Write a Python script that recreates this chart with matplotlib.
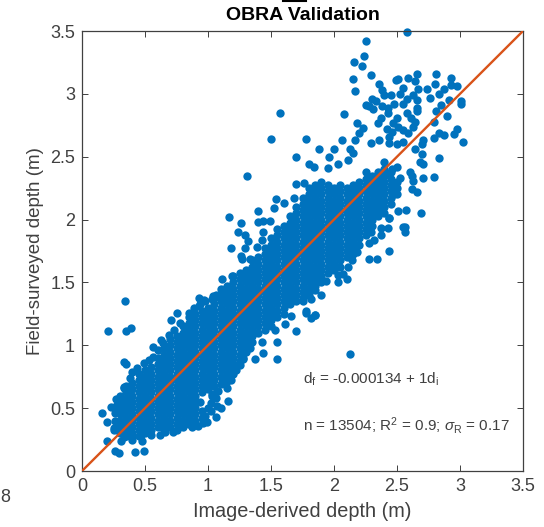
import matplotlib
matplotlib.use('Agg')
import matplotlib.pyplot as plt
from matplotlib.lines import Line2D

plt.rcParams['font.family'] = ['Liberation Sans', 'DejaVu Sans']
plt.rcParams['mathtext.fontset'] = 'custom'
plt.rcParams['mathtext.rm'] = 'Liberation Sans'
plt.rcParams['mathtext.it'] = 'Liberation Sans:italic'
plt.rcParams['mathtext.bf'] = 'Liberation Sans:bold'

core_image = [0.30, 0.35, 0.40, 0.45, 0.50, 0.55, 0.60, 0.65, 0.70, 0.75, 0.80, 0.85, 0.90, 0.95,
              1.00, 1.05, 1.10, 1.15, 1.20, 1.25, 1.30, 1.35, 1.40, 1.45, 1.50, 1.55, 1.60, 1.65,
              1.70, 1.75, 1.80, 1.85, 1.90, 1.95, 2.00, 2.05, 2.10, 2.15, 2.20, 2.25, 2.30, 2.35,
              2.40, 2.45, 2.50]
core_field = [
    [.30, .35, .40, .45, .50, .55, .60],
    [.275, .325, .375, .425, .475, .525, .575, .625, .675],
    [.25, .30, .35, .40, .45, .50, .55, .60, .65, .70],
    [.275, .325, .375, .425, .475, .525, .575, .625, .675, .725, .775],
    [.30, .35, .40, .45, .50, .55, .60, .65, .70, .75, .80],
    [.325, .375, .425, .475, .525, .575, .625, .675, .725, .775, .825],
    [.35, .40, .45, .50, .55, .60, .65, .70, .75, .80, .85, .90],
    [.325, .375, .425, .475, .525, .575, .625, .675, .725, .775, .825, .875, .925, .975],
    [.35, .40, .45, .50, .55, .60, .65, .70, .75, .80, .85, .90, .95, 1.00, 1.05],
    [.325, .375, .425, .475, .525, .575, .625, .675, .725, .775, .825, .875, .925, .975, 1.025, 1.075],
    [.35, .40, .45, .50, .55, .60, .65, .70, .75, .80, .85, .90, .95, 1.00, 1.05, 1.10, 1.15],
    [.375, .425, .475, .525, .575, .625, .675, .725, .775, .825, .875, .925, .975, 1.025, 1.075, 1.125, 1.175, 1.225],
    [.40, .45, .50, .55, .60, .65, .70, .75, .80, .85, .90, .95, 1.00, 1.05, 1.10, 1.15, 1.20, 1.25],
    [.425, .475, .625, .675, .725, .775, .825, .875, .925, .975, 1.025, 1.075, 1.125, 1.175, 1.225, 1.275],
    [.65, .70, .75, .80, .85, .90, .95, 1.00, 1.05, 1.10, 1.15, 1.20, 1.25, 1.30],
    [.675, .725, .775, .825, .875, .925, .975, 1.025, 1.075, 1.125, 1.175, 1.225, 1.275, 1.325, 1.375],
    [.75, .80, .85, .90, .95, 1.00, 1.05, 1.10, 1.15, 1.20, 1.25, 1.30, 1.35, 1.40, 1.45],
    [.775, .825, .875, .925, .975, 1.025, 1.075, 1.125, 1.175, 1.225, 1.275, 1.325, 1.375, 1.425, 1.475],
    [.80, .85, .90, .95, 1.00, 1.05, 1.10, 1.15, 1.20, 1.25, 1.30, 1.35, 1.40, 1.45, 1.50, 1.55],
    [.875, .925, .975, 1.025, 1.075, 1.125, 1.175, 1.225, 1.275, 1.325, 1.375, 1.425, 1.475, 1.525, 1.575],
    [.95, 1.00, 1.05, 1.10, 1.15, 1.20, 1.25, 1.30, 1.35, 1.40, 1.45, 1.50, 1.55, 1.60],
    [1.025, 1.075, 1.125, 1.175, 1.225, 1.275, 1.325, 1.375, 1.425, 1.475, 1.525, 1.575, 1.625, 1.675],
    [1.10, 1.15, 1.20, 1.25, 1.30, 1.35, 1.40, 1.45, 1.50, 1.55, 1.60, 1.65, 1.70],
    [1.125, 1.175, 1.225, 1.275, 1.325, 1.375, 1.425, 1.475, 1.525, 1.575, 1.625, 1.675, 1.725, 1.775],
    [1.15, 1.20, 1.25, 1.30, 1.35, 1.40, 1.45, 1.50, 1.55, 1.60, 1.65, 1.70, 1.75, 1.80, 1.85],
    [1.225, 1.275, 1.325, 1.375, 1.425, 1.475, 1.525, 1.575, 1.625, 1.675, 1.725, 1.775, 1.825, 1.875, 1.925],
    [1.25, 1.30, 1.35, 1.40, 1.45, 1.50, 1.55, 1.60, 1.65, 1.70, 1.75, 1.80, 1.85, 1.90, 1.95],
    [1.325, 1.375, 1.425, 1.475, 1.525, 1.575, 1.625, 1.675, 1.725, 1.775, 1.825, 1.875, 1.925, 1.975, 2.025],
    [1.35, 1.40, 1.45, 1.50, 1.55, 1.60, 1.65, 1.70, 1.75, 1.80, 1.85, 1.90, 1.95, 2.00, 2.05, 2.10],
    [1.375, 1.425, 1.475, 1.525, 1.575, 1.625, 1.675, 1.725, 1.775, 1.825, 1.875, 1.925, 1.975, 2.025, 2.075, 2.125, 2.175],
    [1.40, 1.45, 1.50, 1.55, 1.60, 1.65, 1.70, 1.75, 1.80, 1.85, 1.90, 1.95, 2.00, 2.05, 2.10, 2.15, 2.20, 2.25],
    [1.475, 1.525, 1.575, 1.625, 1.675, 1.725, 1.775, 1.825, 1.875, 1.925, 1.975, 2.025, 2.075, 2.125, 2.175, 2.225, 2.275],
    [1.50, 1.55, 1.60, 1.65, 1.70, 1.75, 1.80, 1.85, 1.90, 1.95, 2.00, 2.05, 2.10, 2.15, 2.20, 2.25, 2.30],
    [1.575, 1.625, 1.675, 1.725, 1.775, 1.825, 1.875, 1.925, 1.975, 2.025, 2.075, 2.125, 2.175, 2.225, 2.275],
    [1.60, 1.65, 1.70, 1.75, 1.80, 1.85, 1.90, 1.95, 2.00, 2.05, 2.10, 2.15, 2.20, 2.25],
    [1.625, 1.675, 1.725, 1.775, 1.825, 1.875, 1.925, 1.975, 2.025, 2.075, 2.125, 2.175, 2.225, 2.275],
    [1.70, 1.75, 1.80, 1.85, 1.90, 1.95, 2.00, 2.05, 2.10, 2.15, 2.20, 2.25],
    [1.725, 1.775, 1.825, 1.875, 1.925, 1.975, 2.025, 2.075, 2.125, 2.175, 2.225, 2.275],
    [1.80, 1.85, 1.90, 1.95, 2.00, 2.05, 2.10, 2.15, 2.20, 2.25, 2.30],
    [1.875, 1.925, 1.975, 2.025, 2.075, 2.125, 2.175, 2.225, 2.275, 2.325, 2.375],
    [1.95, 2.00, 2.05, 2.10, 2.15, 2.20, 2.25, 2.30, 2.35],
    [2.025, 2.075, 2.125, 2.175, 2.225, 2.275, 2.325, 2.375],
    [2.05, 2.10, 2.15, 2.20, 2.25, 2.30, 2.35, 2.40],
    [2.125, 2.175, 2.225, 2.275, 2.325, 2.375],
    [2.20, 2.25, 2.30],
]

# rough rim of the cloud, upper and lower side
rim_image = [0.25, 0.26, 0.26, 0.27, 0.27, 0.33, 0.38, 0.40, 0.44, 0.49, 0.53, 0.56, 0.60, 0.64,
             0.69, 0.73, 0.78, 0.85, 0.89, 0.94, 0.98, 1.03, 1.06,
             0.25, 0.33, 0.40, 0.47, 0.55, 0.66, 0.72, 0.87, 0.92, 0.96, 0.98, 1.00, 1.02, 1.03,
             1.06, 1.08, 1.10, 1.12, 1.14, 1.17, 1.20, 1.22, 1.25, 1.28, 1.33]
rim_field = [0.34, 0.40, 0.46, 0.52, 0.57, 0.66, 0.74, 0.79, 0.82, 0.86, 0.88, 0.91, 0.96, 1.02,
             1.08, 1.12, 1.18, 1.26, 1.30, 1.33, 1.35, 1.37, 1.40,
             0.33, 0.27, 0.27, 0.29, 0.29, 0.31, 0.31, 0.35, 0.36, 0.38, 0.44, 0.50, 0.54, 0.60,
             0.58, 0.64, 0.69, 0.72, 0.70, 0.75, 0.77, 0.84, 0.84, 0.90, 0.98]

# points that can be told apart around the cloud
loose_image = [2.58, 2.25, 2.24, 2.16, 2.22, 2.29, 2.15, 2.17, 2.08, 1.78, 2.06, 1.88, 2.00, 1.96,
               2.18, 2.17, 2.13, 2.23, 2.20, 1.80, 1.84, 1.95, 2.03, 2.11, 2.15,
               2.36, 2.49, 2.51, 2.59, 2.66, 2.64, 2.81, 2.93, 2.80, 2.93, 2.98, 2.87, 2.74, 2.67,
               2.55, 2.52, 2.63, 2.76, 2.83, 2.38, 2.40, 2.45, 2.30, 2.33, 2.25, 2.28, 2.31, 2.38,
               2.48, 2.55, 2.58, 2.66, 2.66, 2.85, 2.91, 3.01, 3.01, 2.43, 2.43, 2.58, 2.66, 2.81,
               2.90, 2.37, 2.35, 2.50, 2.47, 2.51, 2.61, 2.64, 2.63, 2.79, 2.42, 2.46, 2.55, 2.59,
               2.83, 2.87, 2.79, 2.98, 2.95, 3.02, 2.71, 2.70, 2.44, 2.44, 2.36, 2.29, 2.50, 2.55,
               2.64, 2.70, 2.83, 2.68, 2.71, 2.60, 2.62, 2.63, 2.71, 2.79, 2.62, 2.66, 2.69, 2.57,
               2.51, 2.44, 2.56, 2.40, 2.42, 2.46, 2.50, 2.48, 2.52,
               1.57, 1.50, 1.70, 1.31, 1.70, 1.76, 1.54, 1.60, 1.68, 1.52, 1.40, 1.17, 1.26, 1.24,
               1.29, 1.32, 1.18, 1.29, 1.26, 1.27, 1.33, 1.39, 1.43, 1.44, 1.40, 1.44, 1.49, 1.11,
               1.19, 0.93, 0.97, 0.93, 1.04,
               1.70, 1.55, 1.53, 1.61, 1.44, 1.28, 1.37, 1.55, 1.43, 1.85, 1.78, 1.82, 1.66, 1.90,
               1.94, 2.03, 2.03, 2.44, 2.28, 2.34, 2.56, 2.55, 2.43, 2.44, 2.29, 2.37, 2.37, 2.32,
               2.28, 2.18, 2.14, 2.11, 2.10, 2.07, 1.85, 1.85, 1.78, 1.75, 1.82, 2.13,
               0.34, 0.21, 0.35, 0.39, 0.33, 0.35, 0.33, 0.16, 0.23, 0.20, 0.20, 0.26, 0.29, 0.42,
               0.49, 0.31, 0.48, 0.62, 0.75, 0.71, 0.63, 0.56, 1.06, 0.99, 1.16, 1.07, 1.03, 1.07,
               1.15, 0.94, 1.10, 1.02, 0.97, 1.18, 1.22]
loose_field = [3.49, 3.42, 3.30, 3.25, 3.22, 3.15, 3.12, 3.02, 2.84, 2.64, 2.63, 2.56, 2.56, 2.50,
               2.77, 2.63, 2.56, 2.73, 2.69, 2.44, 2.42, 2.41, 2.44, 2.47, 2.53,
               3.08, 3.11, 3.12, 3.13, 3.16, 3.10, 3.16, 3.13, 3.08, 3.07, 3.06, 3.04, 3.04, 3.04,
               3.05, 3.00, 2.99, 2.97, 3.00, 3.03, 2.99, 2.99, 2.96, 2.94, 2.91, 2.90, 2.88, 2.90,
               2.92, 2.92, 2.96, 2.95, 2.89, 2.91, 2.95, 2.94, 2.92, 2.89, 2.85, 2.85, 2.86, 2.86,
               2.82, 2.81, 2.77, 2.81, 2.77, 2.74, 2.81, 2.78, 2.74, 2.78, 2.72, 2.70, 2.71, 2.69,
               2.69, 2.67, 2.65, 2.72, 2.68, 2.62, 2.63, 2.60, 2.66, 2.61, 2.63, 2.61, 2.60, 2.62,
               2.56, 2.52, 2.49, 2.46, 2.44, 2.38, 2.35, 2.31, 2.33, 2.34, 2.24, 2.22, 2.05, 2.08,
               2.07, 2.01, 1.94, 2.46, 2.36, 2.40, 2.42, 2.20, 2.33,
               2.85, 2.64, 2.50, 2.35, 2.28, 2.29, 2.16, 2.13, 2.17, 2.09, 2.07, 2.02, 1.97, 1.90,
               1.88, 1.83, 1.77, 1.77, 1.71, 1.69, 1.69, 1.78, 1.84, 1.90, 1.98, 1.99, 1.99, 1.53,
               1.55, 1.38, 1.36, 1.31, 1.39,
               1.11, 1.03, 1.12, 1.17, 0.94, 0.89, 0.89, 0.89, 1.03, 1.24, 1.26, 1.22, 1.23, 1.40,
               1.51, 1.56, 1.50, 1.75, 1.69, 1.69, 1.90, 1.94, 1.93, 2.01, 1.90, 1.93, 1.88, 1.84,
               1.81, 1.74, 1.68, 1.62, 1.53, 1.57, 1.44, 1.24, 1.27, 1.35, 1.37, 0.93,
               1.35, 1.11, 1.11, 1.14, 0.87, 0.85, 0.67, 0.46, 0.51, 0.39, 0.24, 0.16, 0.14, 0.15,
               0.16, 0.24, 0.24, 0.29, 1.26, 1.20, 1.04, 0.99, 0.43, 0.39, 0.56, 0.52, 0.61, 0.64,
               0.66, 0.55, 0.50, 0.48, 0.40, 0.72, 0.80]

ticks = [0, 0.5, 1, 1.5, 2, 2.5, 3, 3.5]
tick_labels = ['0', '0.5', '1', '1.5', '2', '2.5', '3', '3.5']
fit_x = [0, 3.5]
fit_y = [0, 3.5]

text_colour = '#404040'
point_colour = '#0072BD'
line_colour = '#D95319'

image_depth = []
field_depth = []
for x, col in zip(core_image, core_field):
    for y in col:
        image_depth.append(x)
        field_depth.append(y)
image_depth = image_depth + rim_image + loose_image
field_depth = field_depth + rim_field + loose_field

fig = plt.figure(figsize=(5.44, 5.27), dpi=100, facecolor='white')
ax = fig.add_axes([82 / 544, 56 / 527, 441 / 544, 440 / 527])

ax.scatter(image_depth, field_depth, s=36, color=point_colour, linewidths=0, clip_on=False, zorder=2)
ax.plot(fit_x, fit_y, color=line_colour, linewidth=1.7, zorder=3)

ax.set_xlim(0, 3.5)
ax.set_ylim(0, 3.5)
ax.set_xticks(ticks)
ax.set_yticks(ticks)
ax.set_xticklabels(tick_labels)
ax.set_yticklabels(tick_labels)
ax.tick_params(axis='both', direction='in', length=4, width=0.7, top=True, right=True,
               color=text_colour, labelcolor=text_colour, labelsize=13, pad=5)
for side in ax.spines:
    ax.spines[side].set_color(text_colour)
    ax.spines[side].set_linewidth(0.9)

ax.set_xlabel('Image-derived depth (m)', fontsize=14.3, color=text_colour, labelpad=5)
ax.set_ylabel('Field-surveyed depth (m)', fontsize=13.5, color=text_colour, labelpad=4)
ax.set_title('OBRA Validation', fontsize=14, fontweight='bold', color='black', pad=8)

ax.text(1.754, 0.73, r'$\mathrm{d_f}$ = -0.000134 + 1$\mathrm{d_i}$', fontsize=11, color=text_colour,
        va='center', zorder=4)
ax.text(1.754, 0.36, r'n = 13504; R$^2$ = 0.9; $\sigma_{\mathrm{R}}$ = 0.17', fontsize=11,
        color=text_colour, va='center', zorder=4)

# cropped leftovers of the original page
fig.text(0, 29 / 527, '8', fontsize=13, color=text_colour, va='center', ha='left')
fig.add_artist(Line2D([283 / 544, 306 / 544], [526 / 527, 526 / 527], color='black', linewidth=1.5))

fig.savefig('out.png', dpi=100)
